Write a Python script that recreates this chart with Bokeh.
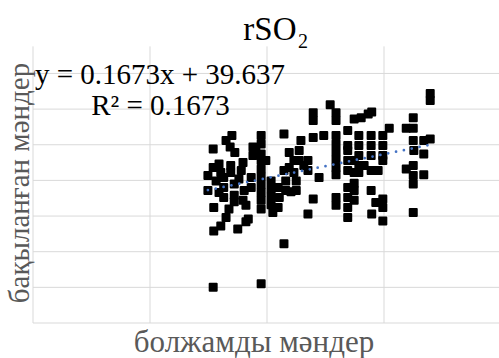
from bokeh.plotting import figure
from bokeh.models import Label, Range1d, ColumnDataSource
from bokeh.embed import file_html
from bokeh.resources import INLINE

# ---- texts ----
TITLE = "rSO"
TITLE_SUB = "2"
X_LABEL = "болжамды мәндер"
Y_LABEL = "бақыланған мәндер"
EQ_LINE = "y = 0.1673x + 39.637"
R2_LINE = "R² = 0.1673"

# ---- trendline (from the chart's equation) ----
SLOPE = 0.1673
INTERCEPT = 39.637

# ---- gridline positions (axes themselves are hidden) ----
X_TICKS = [0, 20, 40, 60]
Y_TICKS = [26, 31, 36, 41, 46, 51, 56, 61]
X_MAX = 79.8
Y_MAX = 64.8

# ---- data ----
predicted = [
    30.8, 33.0, 34.0, 33.7, 34.5, 29.9, 29.9, 30.8, 31.8, 32.1,
    31.3, 32.6, 32.6, 32.6, 33.8, 33.8, 34.4, 34.4, 34.4, 35.9,
    35.6, 36.1, 35.9, 37.3, 37.3, 37.6, 37.6, 30.9, 33.0, 30.9,
    32.1, 35.0, 36.4, 30.8, 36.8, 35.2, 31.8, 33.5, 36.4, 39.0,
    39.0, 39.0, 39.0, 39.0, 39.0, 39.0, 39.0, 39.0, 39.0, 38.1,
    39.8, 39.0, 40.7, 40.7, 40.7, 40.7, 41.0, 41.9, 42.1, 41.9,
    42.9, 42.9, 42.9, 43.8, 43.8, 44.6, 44.6, 45.0, 44.1, 45.8,
    45.5, 45.5, 47.0, 47.0, 48.9, 47.9, 47.9, 47.9, 49.7, 47.0,
    47.9, 50.8, 51.8, 51.8, 51.8, 51.8, 51.8, 51.8, 51.8, 51.8,
    51.8, 51.8, 53.8, 53.8, 53.8, 53.8, 53.8, 53.8, 53.8, 53.8,
    54.9, 56.1, 57.3, 57.9, 54.9, 54.9, 54.9, 54.9, 54.9, 55.7,
    55.7, 55.7, 55.7, 55.7, 57.8, 57.8, 57.8, 57.8, 59.0, 57.8,
    57.9, 58.6, 59.8, 59.8, 59.8, 59.8, 60.9, 59.8, 59.8, 59.8,
    63.8, 65.0, 65.0, 65.0, 65.1, 63.8, 65.0, 65.0, 65.0, 65.0,
    66.8, 66.8, 66.8, 67.9, 67.9, 67.9, 56.6, 53.8, 43.2, 43.2,
    45.0, 46.3,
]
observed = [
    50.4, 51.6, 52.3, 50.7, 49.9, 46.7, 44.6, 47.8, 48.3, 47.1,
    45.9, 46.4, 45.0, 43.6, 48.1, 47.1, 45.5, 43.9, 43.0, 48.5,
    47.4, 44.6, 43.2, 46.4, 45.0, 50.7, 49.5, 42.2, 40.8, 38.9,
    39.6, 39.2, 40.2, 31.0, 40.6, 46.2, 44.3, 42.0, 42.5, 52.3,
    51.1, 49.7, 48.8, 47.6, 46.5, 45.4, 44.3, 43.2, 42.0, 50.6,
    48.8, 31.5, 45.9, 44.8, 43.7, 42.6, 41.5, 45.0, 43.6, 42.2,
    52.5, 47.4, 37.1, 49.9, 47.8, 48.8, 47.1, 45.9, 44.4, 51.6,
    50.2, 48.8, 48.8, 47.4, 46.4, 55.5, 54.4, 52.0, 52.3, 41.3,
    43.4, 56.6, 55.5, 54.4, 52.3, 51.1, 50.0, 48.9, 47.8, 46.8,
    43.6, 42.5, 53.0, 50.2, 48.8, 47.4, 45.0, 43.6, 42.2, 40.8,
    54.6, 54.8, 55.3, 55.6, 48.8, 47.1, 45.6, 44.6, 43.2, 52.3,
    50.9, 49.5, 48.1, 47.1, 52.3, 50.9, 49.5, 47.4, 47.4, 44.6,
    41.3, 42.9, 52.3, 50.9, 49.5, 48.8, 53.3, 43.4, 42.2, 40.3,
    53.3, 54.8, 53.3, 51.6, 50.2, 47.6, 48.1, 46.7, 45.5, 41.5,
    51.6, 49.7, 46.8, 51.8, 58.2, 57.2, 48.1, 50.9, 45.9, 44.6,
    44.6, 48.1,
]

# ---- layout: the frame is the whole canvas; the plot area is mapped inside ----
W, H = 499, 358
PL, PB = 32.5, 322.5          # pixel position of x=X_TICKS[0], y=Y_TICKS[0]
KX, KY = 5.85, 7.13           # pixels per data unit


def sx(px):
    return X_TICKS[0] + (px - PL) / KX


def sy(py):
    return Y_TICKS[0] + (PB - py) / KY


p = figure(width=W, height=H, output_backend="svg", toolbar_location=None,
           x_range=Range1d(sx(0), sx(W)), y_range=Range1d(sy(H), sy(0)),
           x_axis_location=None, y_axis_location=None,
           min_border=0, title=None)
p.outline_line_color = None
p.background_fill_color = "white"
p.border_fill_color = "white"
p.xgrid.visible = False
p.ygrid.visible = False

# gridlines of the plot area
vx = list(X_TICKS)
p.segment(x0=vx, x1=vx, y0=[Y_TICKS[0]] * len(vx), y1=[Y_MAX] * len(vx),
          line_color="#d9d9d9", line_width=1)
hy = list(Y_TICKS)
p.segment(x0=[X_TICKS[0]] * len(hy), x1=[X_MAX] * len(hy), y0=hy, y1=hy,
          line_color="#d9d9d9", line_width=1)

src = ColumnDataSource(dict(x=predicted, y=observed))
p.scatter("x", "y", source=src, marker="square", size=7,
          fill_color="black", line_color="black", line_width=2,
          line_join="round")

tx = [min(predicted), max(predicted)]
ty = [SLOPE * v + INTERCEPT for v in tx]
p.line(tx, ty, line_color="#4472C4", line_width=2.75,
       line_dash="0 8", line_cap="round")

SERIF = "Liberation Serif"
p.add_layout(Label(x=sx(296), y=sy(28), text=TITLE, text_font=SERIF,
                   text_font_size="33px", text_color="black",
                   text_align="right", text_baseline="alphabetic"))
p.add_layout(Label(x=sx(297.5), y=sy(40.5), text=TITLE_SUB, text_font=SERIF,
                   text_font_size="20px", text_color="black",
                   text_align="left", text_baseline="alphabetic"))
p.add_layout(Label(x=sx(159.5), y=sy(73), text=EQ_LINE, text_font=SERIF,
                   text_font_size="29px", text_color="black",
                   text_align="center", text_baseline="alphabetic"))
p.add_layout(Label(x=sx(160), y=sy(104), text=R2_LINE, text_font=SERIF,
                   text_font_size="29px", text_color="black",
                   text_align="center", text_baseline="alphabetic"))
p.add_layout(Label(x=sx(253.5), y=sy(340.5), text=X_LABEL, text_font=SERIF,
                   text_font_size="31px", text_color="#595959",
                   text_align="center", text_baseline="alphabetic"))
p.add_layout(Label(x=sx(18.5), y=sy(182.5), text=Y_LABEL, text_font=SERIF,
                   text_font_size="29px", text_color="#595959",
                   angle=1.5707963, text_align="center",
                   text_baseline="alphabetic"))

open("out.html", "w").write(file_html(p, INLINE))
